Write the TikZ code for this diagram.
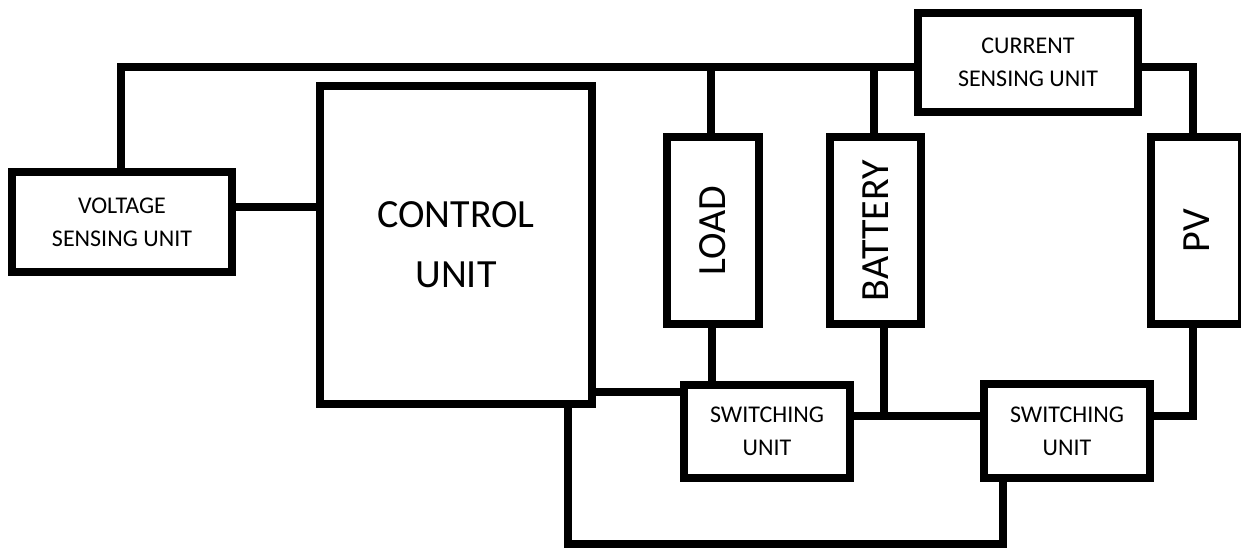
\documentclass[tikz,border=0pt]{standalone}
\usepackage{fontspec}
\setmainfont{Carlito}
\usepackage{tikz}
\usetikzlibrary{positioning,calc}

\begin{document}
\begin{tikzpicture}[
  x=1pt, y=-1pt,
  every node/.style={font=\fontsize{24}{33}\selectfont},
  unitbox/.style={
    draw, line width=8pt, rectangle, align=center, inner sep=0pt,
  },
  bigtext/.style={font=\fontsize{40}{60}\selectfont},
  wire/.style={line width=8pt},
]
  \useasboundingbox (0,0) rectangle (1241,548);

  \node[unitbox, minimum width=220, minimum height=100] (volt) at (122,222) {VOLTAGE\\SENSING UNIT};
  \node[unitbox, bigtext, minimum width=272, minimum height=318] (ctrl) at (456,245) {CONTROL\\UNIT};
  \node[unitbox, bigtext, minimum width=92, minimum height=187] (load) at (713,230.5) {\rotatebox{90}{LOAD}};
  \node[unitbox, bigtext, minimum width=91, minimum height=187] (batt) at (875.5,230.5) {\rotatebox{90}{BATTERY}};
  \node[unitbox, bigtext, minimum width=91, minimum height=187] (pv) at (1196.5,230.5) {\rotatebox{90}{PV}};
  \node[unitbox, minimum width=220, minimum height=99] (curr) at (1028,62.5) {CURRENT\\SENSING UNIT};
  \node[unitbox, minimum width=166, minimum height=93] (sw1) at (767,431.5) {SWITCHING\\UNIT};
  \node[unitbox, minimum width=166, minimum height=94] (sw2) at (1067,431) {SWITCHING\\UNIT};

  % wiring levels
  \coordinate (topy) at (121,67);
  \coordinate (vc) at (0,207);
  \coordinate (cs) at (0,392);
  \coordinate (bj) at (884,416);
  \coordinate (bl) at (568,544);
  \coordinate (br) at (1003,544);

  \draw[wire] (volt.north -| topy) -- (topy) -- (curr.west |- topy);
  \draw[wire] (load.north -| 711,0) -- (711,67);
  \draw[wire] (batt.north -| 874,0) -- (874,67);
  \draw[wire] (curr.east |- topy) -| (pv.north -| 1193,0);
  \draw[wire] (volt.east |- vc) -- (ctrl.west |- vc);
  \draw[wire] (ctrl.east |- cs) -- (sw1.west |- cs);
  \draw[wire] (load.south -| 712,0) -- (sw1.north -| 712,0);
  \draw[wire] (batt.south -| bj) -- (bj);
  \draw[wire] (sw1.east |- bj) -- (sw2.west |- bj);
  \draw[wire] (pv.south -| 1193,0) |- (sw2.east |- bj);
  \draw[wire] (ctrl.south -| bl) -- (bl) -- (br) -- (sw2.south -| br);
\end{tikzpicture}
\end{document}
